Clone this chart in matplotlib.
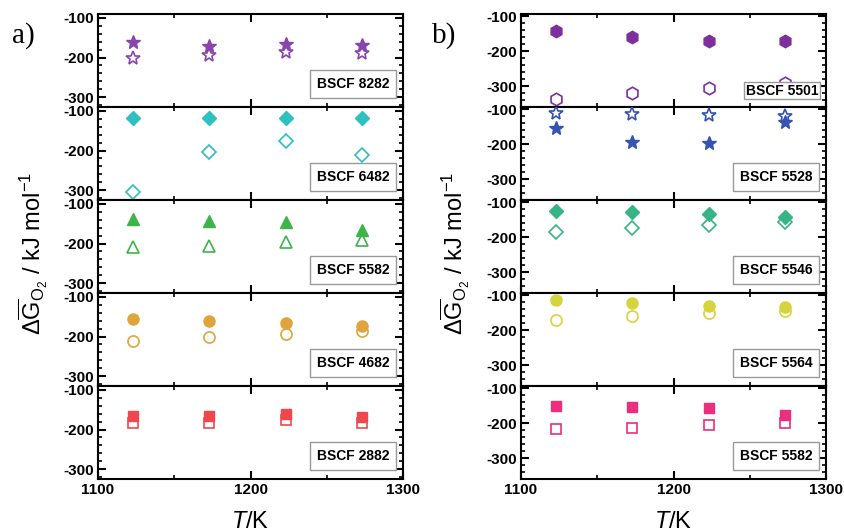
import matplotlib
matplotlib.use("Agg")
import matplotlib.pyplot as plt
from matplotlib.ticker import MultipleLocator

plt.rcParams['font.family'] = ['Liberation Sans', 'DejaVu Sans']
plt.rcParams['mathtext.fontset'] = 'custom'
plt.rcParams['mathtext.rm'] = 'Liberation Sans'
plt.rcParams['mathtext.it'] = 'Liberation Sans:italic'
plt.rcParams['axes.unicode_minus'] = False

T = [1123, 1173, 1223, 1273]

# panel a) - left column, top to bottom
left_names = ["BSCF 8282", "BSCF 6482", "BSCF 5582", "BSCF 4682", "BSCF 2882"]
left_filled = [
    [-162, -171, -167, -168],
    [-118, -118, -117, -118],
    [-139, -142, -145, -166],
    [-156, -160, -167, -174],
    [-165, -166, -161, -169],
]
left_open = [
    [-202, -194, -187, -189],
    [-305, -204, -177, -212],
    [-209, -205, -197, -190],
    [-212, -202, -193, -185],
    [-183, -183, -177, -183],
]
left_colors = ["#8a45ad", "#2ebfc0", "#3db34a", "#e0a43c", "#f0474c"]
left_markers = ["*", "D", "^", "o", "s"]

# panel b) - right column, top to bottom
right_names = ["BSCF 5501", "BSCF 5528", "BSCF 5546", "BSCF 5564", "BSCF 5582"]
right_filled = [
    [-141, -160, -170, -170],
    [-152, -194, -196, -135],
    [-125, -127, -133, -141],
    [-114, -123, -129, -132],
    [-150, -153, -157, -177],
]
right_open = [
    [-337, -319, -305, -292],
    [-110, -112, -117, -119],
    [-184, -173, -165, -157],
    [-170, -159, -151, -146],
    [-217, -214, -206, -200],
]
right_colors = ["#7d2f9b", "#3553b0", "#35b585", "#d6d43c", "#ea2f7c"]
right_markers = ["h", "*", "D", "o", "s"]

marker_size = {"*": 10, "D": 7.5, "^": 8.5, "o": 8, "s": 7, "h": 9}

W, H = 844, 532
fig = plt.figure(figsize=(W / 100, H / 100), dpi=100)


def make_column(x0, ylim, names, filled, opened, colors, markers):
    axes = []
    panel_h = 93 / H
    bottom = 1 - 479 / H
    for i in range(5):
        ax = fig.add_axes([x0 / W, bottom + (4 - i) * panel_h, 305 / W, panel_h])
        m = markers[i]
        ms = marker_size[m]
        ax.plot(T, opened[i], linestyle="none", marker=m, ms=ms, mfc="white",
                mec=colors[i], mew=1.2, zorder=3)
        ax.plot(T, filled[i], linestyle="none", marker=m, ms=ms, mfc=colors[i],
                mec=colors[i], mew=1.0, zorder=4)
        ax.set_xlim(1100, 1300)
        ax.set_ylim(*ylim)
        ax.set_yticks([-100, -200, -300])
        ax.yaxis.set_minor_locator(MultipleLocator(20))
        ax.xaxis.set_major_locator(MultipleLocator(100))
        ax.xaxis.set_minor_locator(MultipleLocator(50))
        ax.tick_params(which="both", direction="in", top=True, right=True,
                       width=1.5, labelsize=11, pad=3)
        ax.tick_params(which="major", length=6)
        ax.tick_params(which="minor", length=3, width=1.2)
        for lab in ax.get_yticklabels() + ax.get_xticklabels():
            lab.set_fontweight("bold")
        for sp in ax.spines.values():
            sp.set_linewidth(1.5)
        if i < 4:
            ax.tick_params(labelbottom=False)
        tight = names[i] == "BSCF 5501"
        ax.text(0.955 if not tight else 0.975, 0.17 if not tight else 0.1,
                names[i], transform=ax.transAxes, ha="right", va="bottom",
                fontsize=10, fontweight="bold", zorder=5,
                bbox=dict(boxstyle="square,pad=%s" % (0.12 if tight else 0.5),
                          fc="white", ec="#999999", lw=1.0))
        axes.append(ax)
    return axes


left_axes = make_column(98, (-325, -90), left_names, left_filled, left_open,
                        left_colors, left_markers)
right_axes = make_column(521, (-360, -93), right_names, right_filled, right_open,
                         right_colors, right_markers)

ylab = r'$\Delta\overline{\mathrm{G}}_{\mathrm{O_2}}$ / kJ mol$^{-1}$'
fig.text(33 / W, 1 - 253 / H, ylab, rotation=90, ha="center", va="center",
         fontsize=17)
fig.text(455 / W, 1 - 253 / H, ylab, rotation=90, ha="center", va="center",
         fontsize=17)

fig.text(250 / W, 1 - 522 / H, r'$T$/K', ha="center", va="center", fontsize=17)
fig.text(673 / W, 1 - 522 / H, r'$T$/K', ha="center", va="center", fontsize=17)

fig.text(12 / W, 1 - 36 / H, "a)", ha="left", va="center", fontsize=21,
         family="Liberation Serif")
fig.text(432 / W, 1 - 36 / H, "b)", ha="left", va="center", fontsize=21,
         family="Liberation Serif")

fig.savefig("out.png", dpi=100)
